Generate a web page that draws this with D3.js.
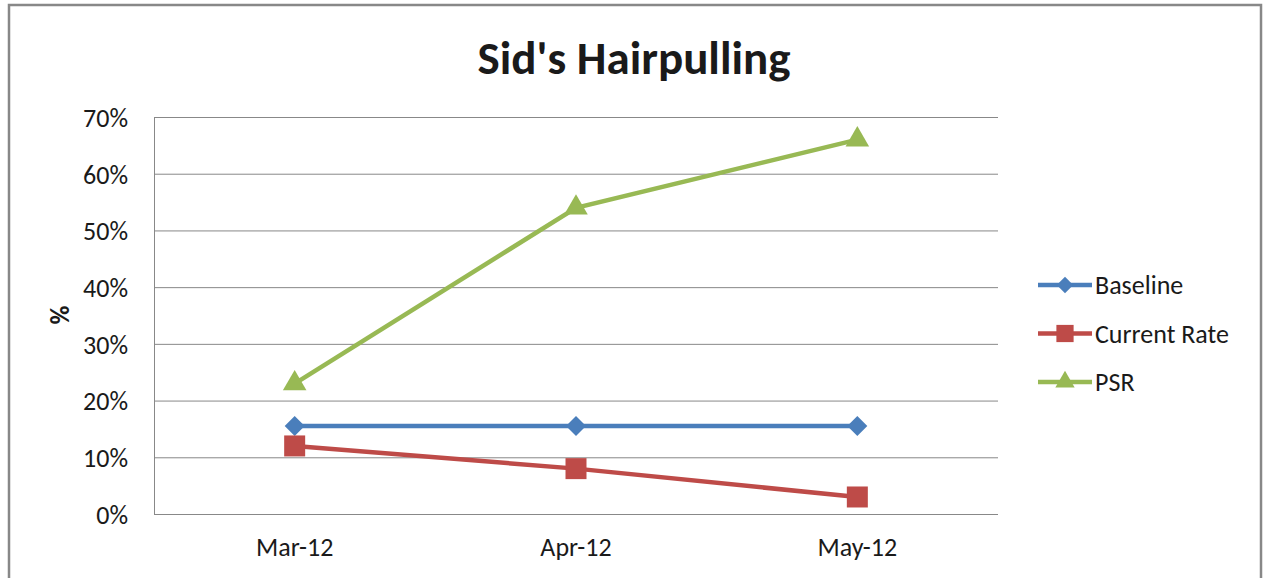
<!DOCTYPE html>
<html>
<head>
<meta charset="utf-8">
<script src="https://cdn.jsdelivr.net/npm/d3@7"></script>
<style>
  body { margin: 0; background: #fff; }
  svg text { font-family: Carlito, Lato, "Open Sans", sans-serif; fill: #1a1a1a; }
</style>
</head>
<body>
<div id="chart"></div>
<script>
// chart data
var categories = ["Mar-12", "Apr-12", "May-12"];
var baseline = [0.155, 0.155, 0.155];
var currentRate = [0.12, 0.08, 0.03];
var psr = [0.23, 0.54, 0.66];
var yTicks = [0, 0.1, 0.2, 0.3, 0.4, 0.5, 0.6, 0.7];

var seriesList = [
  { name: "Baseline", values: baseline, color: "#4A7EBB", marker: "diamond" },
  { name: "Current Rate", values: currentRate, color: "#BE4B48", marker: "square" },
  { name: "PSR", values: psr, color: "#98B954", marker: "triangle" }
];

var width = 1269, height = 578;
var plot = { left: 154, top: 117, right: 998, bottom: 514 };

var svg = d3.select("#chart").append("svg")
    .attr("width", width)
    .attr("height", height);

// outer chart border
svg.append("rect")
    .attr("x", 9)
    .attr("y", 5)
    .attr("width", 1252)
    .attr("height", 600)
    .attr("fill", "#fff")
    .attr("stroke", "#888")
    .attr("stroke-width", 2.5);

var x = d3.scaleBand()
    .domain(categories)
    .range([plot.left, plot.right]);

var y = d3.scaleLinear()
    .domain([0, 0.7])
    .range([plot.bottom, plot.top]);

// gridlines
var yAxis = d3.axisLeft(y)
    .tickValues(yTicks)
    .tickFormat(d3.format(".0%"))
    .tickSize(-(plot.right - plot.left))
    .tickPadding(26);

var gy = svg.append("g")
    .attr("class", "y-axis")
    .attr("transform", "translate(" + plot.left + ",0)")
    .call(yAxis);
gy.select(".domain").attr("stroke", "#888");
gy.selectAll(".tick line").attr("stroke", "#888").attr("stroke-width", 1);
gy.selectAll(".tick text").attr("font-size", 26).attr("dy", "0.36em");

var xAxis = d3.axisBottom(x).tickSize(0).tickPadding(24);
var gx = svg.append("g")
    .attr("class", "x-axis")
    .attr("transform", "translate(0," + plot.bottom + ")")
    .call(xAxis);
gx.select(".domain").remove();
gx.selectAll(".tick text").attr("font-size", 26);

// title
svg.append("text")
    .attr("x", 634)
    .attr("y", 74)
    .attr("text-anchor", "middle")
    .attr("font-size", 47)
    .attr("font-weight", "bold")
    .text("Sid's Hairpulling");

// y axis title
svg.append("text")
    .attr("transform", "translate(69,315) rotate(-90)")
    .attr("text-anchor", "middle")
    .attr("font-size", 26)
    .attr("font-weight", "bold")
    .text("%");

// marker shapes
function markerPath(type, k) {
  if (type === "diamond") {
    var r = 10 * k;
    return "M0," + (-r) + "L" + r + ",0L0," + r + "L" + (-r) + ",0Z";
  }
  if (type === "square") {
    var h = 10.5 * k;
    return "M" + (-h) + "," + (-h) + "H" + h + "V" + h + "H" + (-h) + "Z";
  }
  return d3.symbol().type(d3.symbolTriangle).size(240 * k * k)();
}

var line = d3.line()
    .x(function(d, i) { return x(categories[i]) + x.bandwidth() / 2; })
    .y(function(d) { return y(d); });

var series = svg.append("g").attr("class", "series")
    .selectAll("g")
    .data(seriesList)
    .enter()
    .append("g");

series.append("path")
    .attr("d", function(d) { return line(d.values); })
    .attr("fill", "none")
    .attr("stroke", function(d) { return d.color; })
    .attr("stroke-width", 4.5);

series.each(function(s) {
  d3.select(this).selectAll(".marker")
      .data(s.values)
      .enter()
      .append("path")
      .attr("class", "marker")
      .attr("d", markerPath(s.marker, 1))
      .attr("transform", function(d, i) {
        return "translate(" + (x(categories[i]) + x.bandwidth() / 2) + "," + y(d) + ")";
      })
      .attr("fill", s.color);
});

// legend
var legend = svg.append("g").attr("class", "legend")
    .selectAll("g")
    .data(seriesList)
    .enter()
    .append("g")
    .attr("transform", function(d, i) { return "translate(1038," + (285 + i * 48.5) + ")"; });

legend.append("line")
    .attr("x1", 0)
    .attr("x2", 54)
    .attr("stroke", function(d) { return d.color; })
    .attr("stroke-width", 4.5);

legend.append("path")
    .attr("d", function(d) { return markerPath(d.marker, 0.82); })
    .attr("transform", "translate(27,0)")
    .attr("fill", function(d) { return d.color; });

legend.append("text")
    .attr("x", 57)
    .attr("dy", "0.36em")
    .attr("font-size", 26)
    .text(function(d) { return d.name; });
</script>
</body>
</html>
